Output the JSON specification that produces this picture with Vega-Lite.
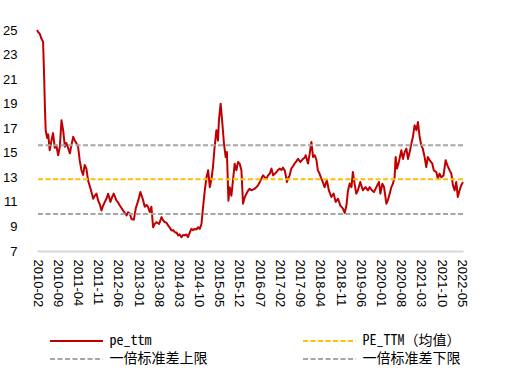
{
  "$schema": "https://vega.github.io/schema/vega-lite/v6.json",
  "width": 426,
  "height": 221,
  "autosize": {"type": "none"},
  "padding": {"left": 37, "top": 30, "right": 50, "bottom": 130},
  "background": "white",
  "config": {
    "view": {"stroke": null},
    "axis": {"labelFont": "Liberation Sans", "labelColor": "#000000", "grid": false, "ticks": false, "tickSize": 0, "title": null},
    "axisY": {"labelOverlap": false, "labelFlush": false, "domain": false, "labelPadding": 20, "labelFontSize": 13},
    "legend": {"labelFont": "Noto Sans Mono CJK SC, DejaVu Sans Mono, Noto Sans CJK SC", "labelFontSize": 14, "labelColor": "#000000"}
  },
  "layer": [
    {
      "data": {"values": [
        {"date": "2010-02-01", "pe": 25.0},
        {"date": "2010-02-16", "pe": 24.8},
        {"date": "2010-03-02", "pe": 24.7},
        {"date": "2010-03-19", "pe": 24.3},
        {"date": "2010-04-06", "pe": 24.05},
        {"date": "2010-04-18", "pe": 21.0},
        {"date": "2010-04-26", "pe": 18.5},
        {"date": "2010-05-04", "pe": 16.8},
        {"date": "2010-05-19", "pe": 16.2},
        {"date": "2010-05-30", "pe": 16.5},
        {"date": "2010-06-15", "pe": 15.2},
        {"date": "2010-07-01", "pe": 15.9},
        {"date": "2010-07-20", "pe": 16.6},
        {"date": "2010-08-08", "pe": 15.4},
        {"date": "2010-08-24", "pe": 15.6},
        {"date": "2010-09-12", "pe": 14.8},
        {"date": "2010-09-30", "pe": 15.5},
        {"date": "2010-10-17", "pe": 17.65},
        {"date": "2010-11-04", "pe": 16.8},
        {"date": "2010-11-22", "pe": 15.5},
        {"date": "2010-12-07", "pe": 15.8},
        {"date": "2010-12-26", "pe": 15.4},
        {"date": "2011-01-14", "pe": 14.95},
        {"date": "2011-01-29", "pe": 15.6},
        {"date": "2011-02-18", "pe": 16.3},
        {"date": "2011-03-06", "pe": 16.0},
        {"date": "2011-03-22", "pe": 15.8},
        {"date": "2011-04-10", "pe": 15.5},
        {"date": "2011-04-27", "pe": 14.4},
        {"date": "2011-05-15", "pe": 13.6},
        {"date": "2011-06-02", "pe": 13.2},
        {"date": "2011-06-19", "pe": 14.0},
        {"date": "2011-07-07", "pe": 13.7},
        {"date": "2011-07-24", "pe": 12.75},
        {"date": "2011-08-11", "pe": 12.3},
        {"date": "2011-08-29", "pe": 11.8},
        {"date": "2011-09-16", "pe": 11.26},
        {"date": "2011-10-03", "pe": 11.5},
        {"date": "2011-10-21", "pe": 11.67},
        {"date": "2011-11-08", "pe": 11.1},
        {"date": "2011-11-25", "pe": 10.8},
        {"date": "2011-12-13", "pe": 10.3},
        {"date": "2011-12-30", "pe": 10.7},
        {"date": "2012-01-17", "pe": 11.0},
        {"date": "2012-02-05", "pe": 11.3},
        {"date": "2012-02-21", "pe": 11.67},
        {"date": "2012-03-16", "pe": 11.0},
        {"date": "2012-04-03", "pe": 11.4},
        {"date": "2012-04-20", "pe": 11.67},
        {"date": "2012-05-19", "pe": 11.1},
        {"date": "2012-06-05", "pe": 10.95},
        {"date": "2012-06-23", "pe": 10.7},
        {"date": "2012-07-11", "pe": 10.5},
        {"date": "2012-07-27", "pe": 10.3},
        {"date": "2012-08-15", "pe": 10.1},
        {"date": "2012-09-02", "pe": 9.9},
        {"date": "2012-09-19", "pe": 10.15},
        {"date": "2012-10-07", "pe": 10.05},
        {"date": "2012-10-24", "pe": 9.6},
        {"date": "2012-11-18", "pe": 9.55},
        {"date": "2012-12-09", "pe": 10.5},
        {"date": "2013-01-03", "pe": 11.1},
        {"date": "2013-01-26", "pe": 11.8},
        {"date": "2013-02-19", "pe": 11.26},
        {"date": "2013-03-13", "pe": 10.6},
        {"date": "2013-03-31", "pe": 10.75},
        {"date": "2013-04-17", "pe": 10.6},
        {"date": "2013-05-04", "pe": 10.17},
        {"date": "2013-05-22", "pe": 10.6},
        {"date": "2013-06-09", "pe": 8.94},
        {"date": "2013-06-26", "pe": 9.2},
        {"date": "2013-07-14", "pe": 9.35},
        {"date": "2013-08-11", "pe": 9.2},
        {"date": "2013-09-06", "pe": 9.76},
        {"date": "2013-09-23", "pe": 9.5},
        {"date": "2013-10-10", "pe": 9.35},
        {"date": "2013-10-28", "pe": 9.3},
        {"date": "2013-11-14", "pe": 9.08},
        {"date": "2013-12-02", "pe": 8.9},
        {"date": "2013-12-20", "pe": 8.67},
        {"date": "2014-01-06", "pe": 8.7},
        {"date": "2014-01-24", "pe": 8.53},
        {"date": "2014-02-11", "pe": 8.5},
        {"date": "2014-02-28", "pe": 8.27},
        {"date": "2014-03-16", "pe": 8.35},
        {"date": "2014-04-03", "pe": 8.13},
        {"date": "2014-04-20", "pe": 8.3},
        {"date": "2014-05-08", "pe": 8.27},
        {"date": "2014-05-26", "pe": 8.35},
        {"date": "2014-06-12", "pe": 8.13},
        {"date": "2014-06-30", "pe": 8.5},
        {"date": "2014-07-18", "pe": 8.8},
        {"date": "2014-08-04", "pe": 8.7},
        {"date": "2014-08-22", "pe": 8.8},
        {"date": "2014-09-09", "pe": 8.75},
        {"date": "2014-09-26", "pe": 8.94},
        {"date": "2014-10-14", "pe": 8.8},
        {"date": "2014-11-01", "pe": 9.2},
        {"date": "2014-11-18", "pe": 10.6},
        {"date": "2014-12-06", "pe": 11.94},
        {"date": "2014-12-24", "pe": 13.0},
        {"date": "2015-01-10", "pe": 13.57},
        {"date": "2015-01-28", "pe": 12.2},
        {"date": "2015-02-15", "pe": 12.9},
        {"date": "2015-03-02", "pe": 13.84},
        {"date": "2015-03-20", "pe": 15.5},
        {"date": "2015-04-07", "pe": 16.84},
        {"date": "2015-04-24", "pe": 16.0},
        {"date": "2015-05-04", "pe": 17.65},
        {"date": "2015-05-22", "pe": 19.0},
        {"date": "2015-06-09", "pe": 17.4},
        {"date": "2015-06-26", "pe": 15.75},
        {"date": "2015-07-14", "pe": 14.65},
        {"date": "2015-07-27", "pe": 15.06},
        {"date": "2015-08-12", "pe": 11.1},
        {"date": "2015-08-25", "pe": 12.2},
        {"date": "2015-09-12", "pe": 11.5},
        {"date": "2015-09-30", "pe": 12.8},
        {"date": "2015-10-17", "pe": 14.1},
        {"date": "2015-11-04", "pe": 13.57},
        {"date": "2015-11-21", "pe": 14.25},
        {"date": "2015-12-09", "pe": 14.1},
        {"date": "2015-12-27", "pe": 13.57},
        {"date": "2016-01-13", "pe": 10.85},
        {"date": "2016-02-01", "pe": 11.4},
        {"date": "2016-02-18", "pe": 11.67},
        {"date": "2016-03-05", "pe": 11.9},
        {"date": "2016-03-23", "pe": 12.07},
        {"date": "2016-04-10", "pe": 11.94},
        {"date": "2016-04-27", "pe": 12.0},
        {"date": "2016-05-15", "pe": 12.07},
        {"date": "2016-06-02", "pe": 12.2},
        {"date": "2016-06-19", "pe": 12.35},
        {"date": "2016-07-07", "pe": 12.6},
        {"date": "2016-07-25", "pe": 12.9},
        {"date": "2016-08-11", "pe": 13.16},
        {"date": "2016-08-29", "pe": 13.0},
        {"date": "2016-09-16", "pe": 12.9},
        {"date": "2016-10-03", "pe": 13.16},
        {"date": "2016-10-21", "pe": 13.3},
        {"date": "2016-11-08", "pe": 13.71},
        {"date": "2016-11-25", "pe": 13.16},
        {"date": "2016-12-13", "pe": 13.3},
        {"date": "2016-12-31", "pe": 13.43},
        {"date": "2017-01-17", "pe": 13.6},
        {"date": "2017-02-04", "pe": 13.71},
        {"date": "2017-02-22", "pe": 13.6},
        {"date": "2017-03-09", "pe": 13.79},
        {"date": "2017-03-27", "pe": 13.57},
        {"date": "2017-04-12", "pe": 13.0},
        {"date": "2017-04-20", "pe": 12.62},
        {"date": "2017-05-02", "pe": 12.9},
        {"date": "2017-05-18", "pe": 13.16},
        {"date": "2017-06-05", "pe": 13.71},
        {"date": "2017-06-23", "pe": 13.9},
        {"date": "2017-07-10", "pe": 14.12},
        {"date": "2017-07-28", "pe": 14.3},
        {"date": "2017-08-14", "pe": 14.5},
        {"date": "2017-09-09", "pe": 14.25},
        {"date": "2017-10-06", "pe": 14.5},
        {"date": "2017-10-24", "pe": 14.6},
        {"date": "2017-11-04", "pe": 14.8},
        {"date": "2017-11-28", "pe": 14.12},
        {"date": "2017-12-16", "pe": 14.93},
        {"date": "2018-01-03", "pe": 15.88},
        {"date": "2018-01-20", "pe": 14.66},
        {"date": "2018-02-07", "pe": 14.8},
        {"date": "2018-02-25", "pe": 14.4},
        {"date": "2018-03-12", "pe": 13.57},
        {"date": "2018-03-30", "pe": 13.3},
        {"date": "2018-04-17", "pe": 12.9},
        {"date": "2018-05-04", "pe": 12.6},
        {"date": "2018-05-22", "pe": 12.2},
        {"date": "2018-06-15", "pe": 12.76},
        {"date": "2018-07-06", "pe": 11.94},
        {"date": "2018-08-01", "pe": 11.4},
        {"date": "2018-08-25", "pe": 11.67},
        {"date": "2018-09-16", "pe": 11.0},
        {"date": "2018-10-10", "pe": 11.26},
        {"date": "2018-11-04", "pe": 10.7},
        {"date": "2018-12-02", "pe": 10.45},
        {"date": "2018-12-20", "pe": 10.1},
        {"date": "2019-01-07", "pe": 10.7},
        {"date": "2019-01-23", "pe": 11.9},
        {"date": "2019-02-11", "pe": 12.5},
        {"date": "2019-03-01", "pe": 12.2},
        {"date": "2019-03-16", "pe": 13.43},
        {"date": "2019-04-03", "pe": 12.48},
        {"date": "2019-04-21", "pe": 11.67},
        {"date": "2019-05-08", "pe": 11.94},
        {"date": "2019-06-02", "pe": 12.62},
        {"date": "2019-06-30", "pe": 11.94},
        {"date": "2019-07-28", "pe": 12.2},
        {"date": "2019-08-22", "pe": 11.94},
        {"date": "2019-09-09", "pe": 12.2},
        {"date": "2019-10-03", "pe": 11.94},
        {"date": "2019-10-24", "pe": 11.8},
        {"date": "2019-11-19", "pe": 12.2},
        {"date": "2019-12-16", "pe": 12.62},
        {"date": "2019-12-31", "pe": 11.67},
        {"date": "2020-01-21", "pe": 12.48},
        {"date": "2020-02-08", "pe": 12.2},
        {"date": "2020-03-03", "pe": 10.85},
        {"date": "2020-03-19", "pe": 11.13},
        {"date": "2020-04-07", "pe": 11.67},
        {"date": "2020-04-25", "pe": 12.2},
        {"date": "2020-05-11", "pe": 12.48},
        {"date": "2020-05-29", "pe": 13.0},
        {"date": "2020-06-09", "pe": 14.66},
        {"date": "2020-06-23", "pe": 13.71},
        {"date": "2020-07-13", "pe": 14.25},
        {"date": "2020-08-08", "pe": 15.2},
        {"date": "2020-08-25", "pe": 14.5},
        {"date": "2020-09-12", "pe": 15.06},
        {"date": "2020-09-30", "pe": 15.34},
        {"date": "2020-10-17", "pe": 14.5},
        {"date": "2020-11-04", "pe": 15.06},
        {"date": "2020-11-22", "pe": 15.75},
        {"date": "2020-12-08", "pe": 16.3},
        {"date": "2020-12-26", "pe": 17.24},
        {"date": "2021-01-14", "pe": 16.84},
        {"date": "2021-01-30", "pe": 17.5},
        {"date": "2021-02-17", "pe": 16.3},
        {"date": "2021-03-06", "pe": 15.6},
        {"date": "2021-03-22", "pe": 15.34},
        {"date": "2021-04-10", "pe": 14.66},
        {"date": "2021-04-28", "pe": 13.84},
        {"date": "2021-05-14", "pe": 14.66},
        {"date": "2021-06-02", "pe": 14.4},
        {"date": "2021-06-30", "pe": 14.12},
        {"date": "2021-07-16", "pe": 13.57},
        {"date": "2021-08-11", "pe": 13.43},
        {"date": "2021-08-28", "pe": 12.9},
        {"date": "2021-09-15", "pe": 13.3},
        {"date": "2021-10-03", "pe": 13.0},
        {"date": "2021-10-27", "pe": 13.16},
        {"date": "2021-11-18", "pe": 14.4},
        {"date": "2021-12-06", "pe": 13.98},
        {"date": "2021-12-30", "pe": 13.57},
        {"date": "2022-01-17", "pe": 13.3},
        {"date": "2022-02-03", "pe": 12.35},
        {"date": "2022-02-21", "pe": 11.94},
        {"date": "2022-03-10", "pe": 12.62},
        {"date": "2022-03-26", "pe": 11.4},
        {"date": "2022-04-14", "pe": 11.94},
        {"date": "2022-05-01", "pe": 12.35},
        {"date": "2022-05-20", "pe": 12.62}
      ]},
      "mark": {"type": "line", "strokeWidth": 2, "strokeJoin": "round"},
      "encoding": {
        "x": {
          "field": "date", "type": "temporal",
          "scale": {"type": "utc", "domain": [{"year": 2010, "month": 2, "date": 1, "utc": true}, {"year": 2022, "month": 5, "date": 20, "utc": true}], "nice": false},
          "axis": {
            "format": "%Y-%m", "labelAngle": 90, "labelPadding": 8, "labelFontSize": 13,
            "domainColor": "#d9d9d9", "domainWidth": 2, "labelOverlap": false,
            "values": [
              {"year": 2010, "month": 2, "date": 1, "utc": true},
              {"year": 2010, "month": 9, "date": 1, "utc": true},
              {"year": 2011, "month": 4, "date": 1, "utc": true},
              {"year": 2011, "month": 11, "date": 1, "utc": true},
              {"year": 2012, "month": 6, "date": 1, "utc": true},
              {"year": 2013, "month": 1, "date": 1, "utc": true},
              {"year": 2013, "month": 8, "date": 1, "utc": true},
              {"year": 2014, "month": 3, "date": 1, "utc": true},
              {"year": 2014, "month": 10, "date": 1, "utc": true},
              {"year": 2015, "month": 5, "date": 1, "utc": true},
              {"year": 2015, "month": 12, "date": 1, "utc": true},
              {"year": 2016, "month": 7, "date": 1, "utc": true},
              {"year": 2017, "month": 2, "date": 1, "utc": true},
              {"year": 2017, "month": 9, "date": 1, "utc": true},
              {"year": 2018, "month": 4, "date": 1, "utc": true},
              {"year": 2018, "month": 11, "date": 1, "utc": true},
              {"year": 2019, "month": 6, "date": 1, "utc": true},
              {"year": 2020, "month": 1, "date": 1, "utc": true},
              {"year": 2020, "month": 8, "date": 1, "utc": true},
              {"year": 2021, "month": 3, "date": 1, "utc": true},
              {"year": 2021, "month": 10, "date": 1, "utc": true},
              {"year": 2022, "month": 5, "date": 1, "utc": true}
            ]
          }
        },
        "y": {
          "field": "pe", "type": "quantitative",
          "scale": {"domain": [7, 25], "nice": false, "zero": false},
          "axis": {"values": [7, 9, 11, 13, 15, 17, 19, 21, 23, 25], "labelOverlap": false}
        },
        "color": {"datum": "pe_ttm"},
        "strokeDash": {"datum": "pe_ttm"}
      }
    },
    {
      "data": {"values": [
        {"series": "PE_TTM（均值）", "value": 12.84},
        {"series": "一倍标准差上限", "value": 15.62},
        {"series": "一倍标准差下限", "value": 10.02}
      ]},
      "mark": {"type": "rule", "strokeWidth": 2},
      "encoding": {
        "y": {"field": "value", "type": "quantitative", "axis": {"values": [7, 9, 11, 13, 15, 17, 19, 21, 23, 25], "labelOverlap": false}},
        "color": {
          "field": "series", "type": "nominal",
          "scale": {"domain": ["pe_ttm", "PE_TTM（均值）", "一倍标准差上限", "一倍标准差下限"], "range": ["#c00000", "#ffc000", "#a6a6a6", "#a6a6a6"]},
          "legend": {
            "title": null, "orient": "none", "direction": "horizontal", "legendX": 13, "legendY": 304, "columns": 2, "columnPadding": 91, "rowPadding": 4,
            "padding": 0, "symbolType": "M-5,0L5,0", "symbolSize": 112, "symbolStrokeWidth": 2,
            "symbolOffset": 19.5, "labelOffset": 26
          }
        },
        "strokeDash": {
          "field": "series", "type": "nominal",
          "scale": {"domain": ["pe_ttm", "PE_TTM（均值）", "一倍标准差上限", "一倍标准差下限"], "range": [[1, 0], [5, 2.5], [5, 2.5], [5, 2.5]]},
          "legend": null
        }
      }
    }
  ]
}
